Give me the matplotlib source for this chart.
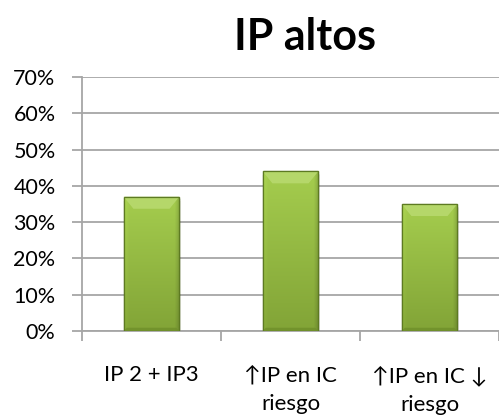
import numpy as np
import matplotlib
matplotlib.use("Agg")
import matplotlib.pyplot as plt
from matplotlib.patches import Polygon
from matplotlib.colors import to_rgb

categories = ["IP 2 + IP3", "\u2191IP en IC\nriesgo", "\u2191IP en IC \u2193\nriesgo"]
values = [37, 44, 35]
yticks = [0, 10, 20, 30, 40, 50, 60, 70]

plt.rcParams["font.family"] = ["Lato", "DejaVu Sans"]

fig = plt.figure(figsize=(4.99, 4.17), dpi=100)
ax = fig.add_axes([0.1643, 0.2062, 0.8357, 0.6091])

x = np.arange(len(categories))
width = 0.40
grid_color = "#a6a6a6"

ax.set_xlim(-0.5, len(categories) - 0.5)
ax.set_ylim(0, 70)
ax.set_yticks(yticks)
ax.set_yticklabels([f"{t}%" for t in yticks], fontsize=15.5)
ax.yaxis.grid(True, color=grid_color, linewidth=1.3)
ax.set_axisbelow(True)

ax.set_xticks(np.arange(len(categories) + 1) - 0.5)
ax.set_xticklabels([])
ax.tick_params(axis="x", length=7, width=1.3, color=grid_color, direction="out")
ax.tick_params(axis="y", length=7, width=1.3, color=grid_color, direction="out", pad=12)
for side in ("top", "right"):
    ax.spines[side].set_visible(False)
for side in ("left", "bottom"):
    ax.spines[side].set_color(grid_color)
    ax.spines[side].set_linewidth(1.3)

for xi, lab in zip(x, categories):
    ax.text(xi, -9.4, lab, ha="center", va="top", fontsize=16,
            linespacing=1.55, clip_on=False)

# shading image: lighter at the top, darker at the bottom and towards the sides
top_c = np.array(to_rgb("#a5cd4e"))
bot_c = np.array(to_rgb("#82a437"))
ny, nx = 200, 100
ty = np.linspace(0, 1, ny)[:, None, None]          # 0 at top row
tx = np.linspace(-1, 1, nx)[None, :, None]
shade = top_c * (1 - ty) + bot_c * ty
edge = np.clip((np.abs(tx) - 0.82) / 0.18, 0, 1)
shade = shade * (1 - 0.16 * edge * (tx > 0)) * (1 + 0.05 * edge * (tx < 0))
shade = np.clip(shade, 0, 1)

bars = ax.bar(x, values, width=width, color="#98bf4b", edgecolor="#5d7a22",
              linewidth=0.9, zorder=3)
for b in bars:
    x0, w, h = b.get_x(), b.get_width(), b.get_height()
    x1 = x0 + w
    for k, a in enumerate([0.10, 0.07, 0.04]):
        ax.add_patch(plt.Rectangle((x0 - 0.004 * k + 0.006, -0.4 - 0.35 * k),
                                   w + 0.008 * k, h, color="black", alpha=a,
                                   zorder=2, linewidth=0))
    im = ax.imshow(shade, aspect="auto", extent=(x0, x1, 0, h), zorder=3.5,
                   origin="upper")
    im.set_clip_path(b)
    bh, tw, sb, sw = 3.3, 0.07, 0.9, 0.022
    ax.add_patch(Polygon([(x0, h), (x1, h), (x1 - tw, h - bh), (x0 + tw, h - bh)],
                         closed=True, facecolor="#b8d96e", edgecolor="none",
                         alpha=0.9, zorder=4))
    ax.add_patch(Polygon([(x0, 0), (x1, 0), (x1 - sw, sb), (x0 + sw, sb)],
                         closed=True, facecolor="#6f8f2a", edgecolor="none",
                         alpha=0.8, zorder=4))
    ax.add_patch(plt.Rectangle((x0, 0), w, h, fill=False, edgecolor="#5d7a22",
                               linewidth=0.9, zorder=4.5))

ax.set_xlim(-0.5, len(categories) - 0.5)
ax.set_ylim(0, 70)

fig.text(0.612, 0.912, "IP altos", ha="center", va="center", fontsize=31,
         fontweight="bold")

fig.savefig("out.png", dpi=100)
